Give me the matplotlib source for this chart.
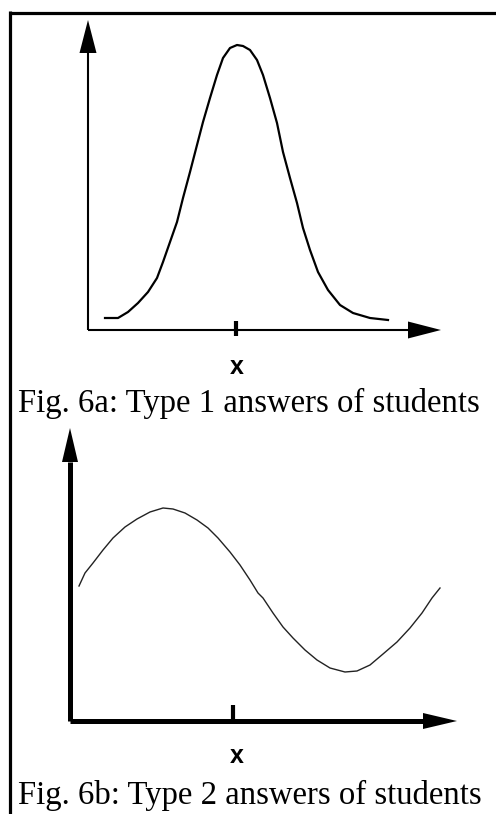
import matplotlib.pyplot as plt

W, H = 496, 814

# Type 1 answers: bell shaped curve (x, y measured from the axes origin)
bell_x = [17, 30, 40, 50, 60, 69, 75, 82, 89, 95, 102, 109, 115, 122, 129, 135, 142, 149,
          155, 162, 169, 175, 182, 189, 195, 202, 209, 215, 222, 230, 240, 252, 265, 282, 300]
bell_y = [12, 12, 18, 27, 38, 52, 68, 88, 108, 132, 158, 185, 208, 232, 255, 272, 282, 285,
          284, 280, 270, 255, 232, 207, 178, 152, 127, 102, 80, 58, 40, 25, 17, 12, 10]

# Type 2 answers: wave shaped curve
wave_x = [9, 15, 23, 33, 43, 55, 67, 80, 93, 103, 115, 127, 138, 148, 160, 170, 180, 188,
          193, 203, 213, 223, 235, 247, 260, 275, 287, 300, 313, 327, 340, 352, 362, 370]
wave_y = [135, 148, 158, 171, 183, 194, 202, 209, 213, 212, 208, 201, 193, 183, 169, 156, 141, 128,
          123, 108, 94, 83, 71, 61, 53, 49, 50, 56, 67, 79, 93, 108, 123, 133]

captions = ["Fig. 6a: Type 1 answers of students", "Fig. 6b: Type 2 answers of students"]
tick_label = "x"


def make_panel(fig, ox, oy):
    # axes spanning the whole figure, one data unit = one pixel, origin at (ox, oy)
    ax = fig.add_axes([0, 0, 1, 1])
    ax.set_xlim(-ox, W - ox)
    ax.set_ylim(oy - H, oy)
    ax.axis("off")
    ax.patch.set_alpha(0)
    return ax


def draw_axes(ax, x_end, y_end, head_len, head_w, lw, tick_x, tick_lo, tick_hi, tick_w):
    ax.plot([0, x_end - head_len], [0, 0], color="black", lw=lw, solid_capstyle="butt")
    ax.plot([0, 0], [0, y_end - head_len], color="black", lw=lw, solid_capstyle="butt")
    ax.fill([x_end - head_len, x_end, x_end - head_len], [head_w, 0, -head_w], color="black", lw=0)
    ax.fill([-head_w, 0, head_w], [y_end - head_len, y_end, y_end - head_len], color="black", lw=0)
    ax.plot([tick_x, tick_x], [tick_lo, tick_hi], color="black", lw=tick_w, solid_capstyle="butt")


fig = plt.figure(figsize=(W / 100, H / 100), dpi=100)
fig.patch.set_facecolor("white")

# frame lines along the top and left edge
frame = fig.add_axes([0, 0, 1, 1])
frame.set_xlim(0, W)
frame.set_ylim(H, 0)
frame.axis("off")
frame.plot([9.5, W], [12.5, 12.5], color="black", lw=2.3, solid_capstyle="butt")
frame.plot([9.5, 9.5], [11, H], color="black", lw=2.3, solid_capstyle="butt")

# top panel
ax1 = make_panel(fig, 88, 330)
draw_axes(ax1, 353, 310, 33, 8.5, 1.5, 148, -6, 9, 3.0)
ax1.plot(bell_x, bell_y, color="black", lw=1.6)
ax1.text(149, -37, tick_label, ha="center", va="center", fontsize=18,
         fontweight="bold", family="Liberation Sans")
ax1.text(18 - 88, 330 - 412, captions[0], ha="left", va="baseline", fontsize=23.6,
         family="Liberation Serif")

# bottom panel
ax2 = make_panel(fig, 70, 721)
draw_axes(ax2, 387, 293, 34, 8, 3.6, 163, 0, 16, 3.0)
ax2.plot(wave_x, wave_y, color="#222222", lw=1.0)
ax2.text(167, -35, tick_label, ha="center", va="center", fontsize=18,
         fontweight="bold", family="Liberation Sans")
ax2.text(18 - 70, 721 - 804, captions[1], ha="left", va="baseline", fontsize=23.6,
         family="Liberation Serif")

fig.savefig("out.png", dpi=100)
